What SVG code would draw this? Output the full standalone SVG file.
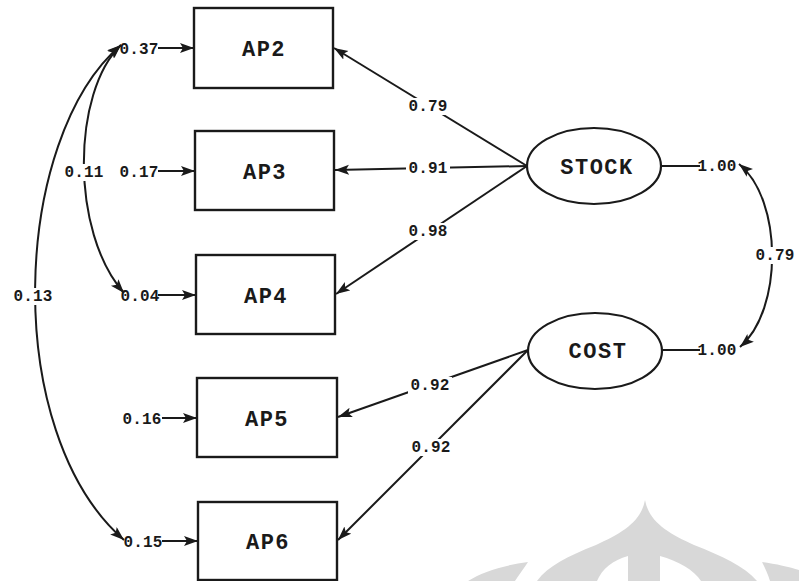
<svg xmlns="http://www.w3.org/2000/svg" width="799" height="581" viewBox="0 0 799 581">
  <style>
    .box { fill: #ffffff; stroke: #1a1a1a; stroke-width: 2.4; }
    .lat { fill: #ffffff; stroke: #1a1a1a; stroke-width: 2.2; }
    .edge { fill: none; stroke: #1a1a1a; stroke-width: 2; }
    .name { font-family: "Liberation Mono", "DejaVu Sans Mono", monospace; font-size: 22px; font-weight: bold; letter-spacing: 1.5px; fill: #1a1a1a; text-anchor: middle; }
    .val { font-family: "Liberation Mono", "DejaVu Sans Mono", monospace; font-size: 16px; font-weight: bold; letter-spacing: 0.2px; fill: #1a1a1a; text-anchor: middle; }
    .bg { fill: #ffffff; }
    .mark { fill: #d8d8d8; }
  </style>
  <defs>
    <marker id="head" markerUnits="userSpaceOnUse" markerWidth="16" markerHeight="12" refX="14" refY="5" orient="auto-start-reverse">
      <path d="M0,0 L14,5 L0,10 L3,5 Z" fill="#1a1a1a"/>
    </marker>
  </defs>

  <rect width="799" height="581" fill="#ffffff"/>

  <!-- faint emblem in the lower right -->
  <g id="emblem">
    <path class="mark" d="M645,500 C641,522 622,533 596,545 C568,556 548,566 537,581 L757,581 C744,566 722,556 694,545 C668,533 649,522 645,500 Z"/>
    <path fill="#ffffff" d="M597,581 C602,569 613,560 628,556 L628,581 Z"/>
    <path fill="#ffffff" d="M660,556 C678,561 694,570 701,581 L660,581 Z"/>
    <path class="mark" d="M468,581 C482,572 505,565 528,562 C524,568 519,575 515,581 Z"/>
    <path class="mark" d="M762,562 C776,564 790,567 799,570 L799,581 L770,581 C768,574 765,568 762,562 Z"/>
  </g>

  <!-- connectors -->
  <g id="connectors">
    <!-- loadings -->
    <line class="edge" x1="527" y1="166" x2="334" y2="48" marker-end="url(#head)"/>
    <line class="edge" x1="527" y1="166" x2="335" y2="170" marker-end="url(#head)"/>
    <line class="edge" x1="527" y1="166" x2="336" y2="294" marker-end="url(#head)"/>
    <line class="edge" x1="528" y1="350" x2="338" y2="417" marker-end="url(#head)"/>
    <line class="edge" x1="528" y1="350" x2="338" y2="540" marker-end="url(#head)"/>
    <!-- error terms -->
    <line class="edge" x1="158" y1="48" x2="194" y2="48" marker-end="url(#head)"/>
    <line class="edge" x1="158" y1="171" x2="195" y2="171" marker-end="url(#head)"/>
    <line class="edge" x1="158" y1="295" x2="196" y2="295" marker-end="url(#head)"/>
    <line class="edge" x1="162" y1="418" x2="197" y2="418" marker-end="url(#head)"/>
    <line class="edge" x1="162" y1="541" x2="198" y2="541" marker-end="url(#head)"/>
    <!-- error covariances -->
    <path class="edge" d="M121,45 C72,92 70,232 124,293" marker-start="url(#head)" marker-end="url(#head)"/>
    <path class="edge" d="M121,45 C12,138 0,432 124,540" marker-start="url(#head)" marker-end="url(#head)"/>
    <!-- latent variances and covariance -->
    <line class="edge" x1="662" y1="166" x2="700" y2="166"/>
    <line class="edge" x1="663" y1="350" x2="700" y2="350"/>
    <path class="edge" d="M739,164 C783,200 783,310 740,347" marker-start="url(#head)" marker-end="url(#head)"/>
  </g>

  <!-- observed indicators -->
  <g id="AP2">
    <rect class="box" x="194" y="8" width="139" height="80"/>
    <text class="name" x="264" y="56">AP2</text>
  </g>
  <g id="AP3">
    <rect class="box" x="195" y="131" width="139" height="79"/>
    <text class="name" x="265" y="179">AP3</text>
  </g>
  <g id="AP4">
    <rect class="box" x="196" y="255" width="139" height="79"/>
    <text class="name" x="266" y="303">AP4</text>
  </g>
  <g id="AP5">
    <rect class="box" x="197" y="378" width="140" height="79"/>
    <text class="name" x="267" y="426">AP5</text>
  </g>
  <g id="AP6">
    <rect class="box" x="198" y="502" width="139" height="78"/>
    <text class="name" x="268" y="549">AP6</text>
  </g>

  <!-- latent factors -->
  <g id="STOCK">
    <ellipse class="lat" cx="594" cy="166" rx="67" ry="38"/>
    <text class="name" x="597" y="174">STOCK</text>
  </g>
  <g id="COST">
    <ellipse class="lat" cx="595" cy="351" rx="67" ry="38"/>
    <text class="name" x="598" y="358">COST</text>
  </g>

  <!-- coefficients (white plates break the lines they sit on) -->
  <g id="labels">
    <rect class="bg" x="62" y="164" width="44" height="17"/>
    <rect class="bg" x="11" y="288" width="44" height="17"/>
    <rect class="bg" x="406" y="98" width="44" height="17"/>
    <rect class="bg" x="406" y="160" width="44" height="17"/>
    <rect class="bg" x="406" y="223" width="44" height="17"/>
    <rect class="bg" x="408" y="377" width="44" height="17"/>
    <rect class="bg" x="409" y="439" width="44" height="17"/>
    <rect class="bg" x="753" y="247" width="44" height="17"/>
    <text class="val" x="139" y="54">0.37</text>
    <text class="val" x="139" y="177">0.17</text>
    <text class="val" x="84" y="177">0.11</text>
    <text class="val" x="140" y="301">0.04</text>
    <text class="val" x="142" y="424">0.16</text>
    <text class="val" x="143" y="547">0.15</text>
    <text class="val" x="33" y="301">0.13</text>
    <text class="val" x="428" y="111">0.79</text>
    <text class="val" x="428" y="173">0.91</text>
    <text class="val" x="428" y="236">0.98</text>
    <text class="val" x="430" y="390">0.92</text>
    <text class="val" x="431" y="452">0.92</text>
    <text class="val" x="717" y="171">1.00</text>
    <text class="val" x="717" y="355">1.00</text>
    <text class="val" x="775" y="260">0.79</text>
  </g>
</svg>
